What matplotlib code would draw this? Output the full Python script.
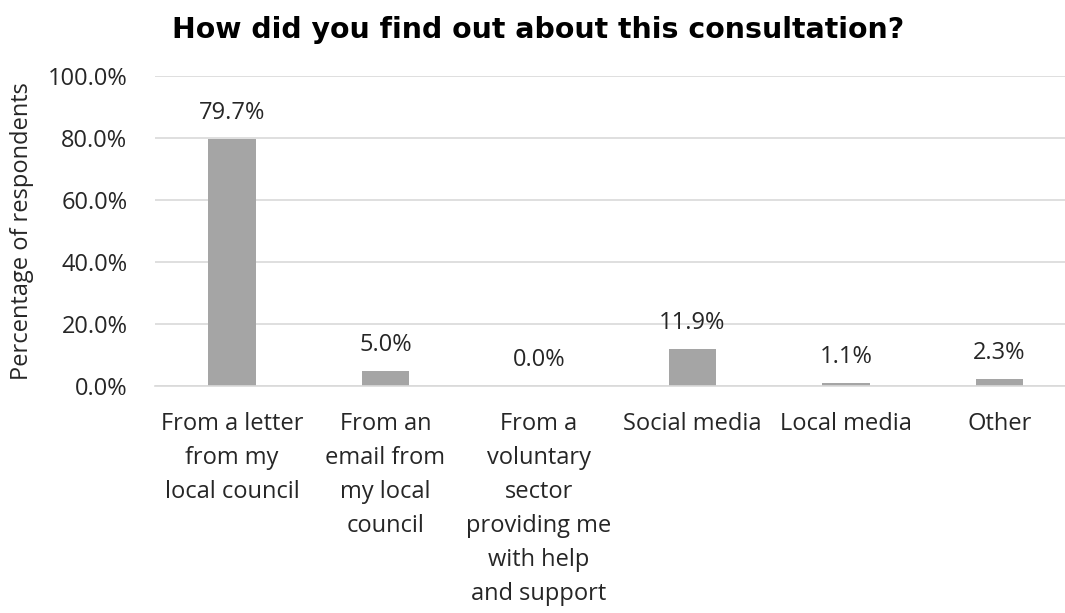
import matplotlib.pyplot as plt
from matplotlib.ticker import FuncFormatter

# Survey responses: how people heard about the consultation
categories = [
    "From a letter\nfrom my\nlocal council",
    "From an\nemail from\nmy local\ncouncil",
    "From a\nvoluntary\nsector\nproviding me\nwith help\nand support",
    "Social media",
    "Local media",
    "Other",
]
percentages = [79.7, 5.0, 0.0, 11.9, 1.1, 2.3]
y_ticks = [0, 20, 40, 60, 80, 100]

text_color = "#262626"
fs = 17
plt.rcParams["font.family"] = ["Open Sans", "DejaVu Sans"]

fig = plt.figure(figsize=(10.65, 6.13), dpi=100)
# plot area runs a little past the right edge of the canvas
ax = fig.add_axes([155.25 / 1065, 1 - 386 / 613, 921 / 1065, 310 / 613])

x = list(range(len(categories)))
ax.bar(x, percentages, width=0.31, color="#A5A5A5", zorder=2)

for xi, v in zip(x, percentages):
    ax.text(xi, v + 4.5, f"{v:.1f}%", ha="center", va="bottom",
            fontsize=fs, color=text_color)

ax.set_xlim(-0.5, len(categories) - 0.5)
ax.set_ylim(0, 100)
ax.set_yticks(y_ticks)
ax.yaxis.set_major_formatter(FuncFormatter(lambda v, _: f"{v:.1f}%"))
ax.grid(axis="y", color="#D9D9D9", linewidth=1.2, zorder=0)
for side in ["top", "right", "left"]:
    ax.spines[side].set_visible(False)
ax.spines["bottom"].set_color("#D9D9D9")
ax.spines["bottom"].set_linewidth(1.2)

ax.set_xticks(x)
ax.set_xticklabels(categories, fontsize=fs, color=text_color, linespacing=1.55)
ax.tick_params(axis="x", length=0, pad=19)
ax.tick_params(axis="y", length=0, pad=20, labelsize=fs, labelcolor=text_color)

ax.set_ylabel("Percentage of respondents", fontsize=fs, color=text_color)
ax.yaxis.set_label_coords(-121 / 921, 0.5)

fig.text(538 / 1065, 1 - 30 / 613, "How did you find out about this consultation?",
         ha="center", va="center", fontsize=20.4, fontweight="bold",
         family="DejaVu Sans", color="black")

fig.savefig("out.png", dpi=100)
